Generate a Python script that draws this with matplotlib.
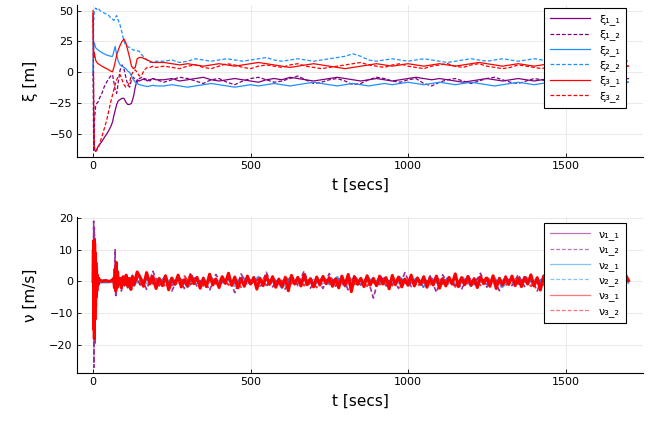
import numpy as np
import matplotlib
matplotlib.use("Agg")
import matplotlib.pyplot as plt

# ---------------- data: xi (top panel) ----------------
t_xi_early = [0, 2, 4, 8, 12, 16, 22, 28, 35, 43, 50, 56, 62, 66, 70, 75, 80, 86, 92, 98,
              104, 110, 116, 122, 128, 134, 140, 147, 155, 163, 172, 181, 190, 200]
t_xi_steady = list(range(225, 1701, 25))

xi1_1 = [45, -30, -62, -64, -62, -60, -58, -56, -53, -50, -47, -44, -40, -35, -31, -26, -23, -22, -21, -21,
         -24, -26, -26, -25, -20, -12, -6, -7, -6, -5, -7, -6, -5, -6,
         -6, -5, -7, -6, -5, -4, -6, -7, -6, -5, -6, -7, -8, -6, -5, -6, -4, -5, -6, -7,
         -6, -5, -4, -5, -6, -7, -6, -5, -6, -7, -6, -5, -4, -5, -6, -5, -6, -7, -8, -7,
         -6, -5, -6, -7, -6, -5, -6, -7, -6, -5, -4, -5, -6, -7, -6, -5, -6, -7, -6, -5]
xi1_2 = [0, -64, -40, -28, -25, -24, -20, -17, -12, -8, -5, -3, -2, -8, -14, -17, -8, 2, 6, 3,
         -4, -10, -12, -6, -4, -6, -8, -5, -4, -6, -5, -7, -5, -6,
         -8, -6, -4, -5, -7, -9, -6, -5, -8, -10, -7, -5, -4, -6, -8, -7, -5, -3, -6, -9,
         -8, -6, -5, -7, -10, -9, -6, -4, -5, -7, -8, -6, -5, -9, -11, -8, -6, -5, -7, -9,
         -7, -5, -4, -6, -8, -9, -7, -5, -6, -8, -10, -8, -6, -5, -7, -9, -8, -6, -7, -8]
xi2_1 = [0, 22, 24, 20, 19, 18, 17, 16, 15, 14, 13.5, 13, 13, 17, 21, 14, 9, 6, 5, 4,
         3, 1, 0, -3, -6, -8, -9, -10, -10.5, -11, -11.5, -11, -10.5, -11,
         -11, -10, -11, -12, -11, -10, -9, -10, -11, -12, -11, -10, -11, -10, -9, -10, -11, -10, -9, -8,
         -9, -10, -11, -10, -9, -10, -11, -10, -9, -10, -9, -8, -9, -10, -9, -8, -9, -10, -9, -8,
         -9, -10, -11, -10, -9, -8, -9, -10, -9, -8, -9, -10, -9, -8, -9, -8, -9, -10, -9, -8]
xi2_2 = [0, 40, 50, 52, 51, 52, 50, 49, 48, 47, 46, 44, 43, 42, 44, 46, 42, 38, 32, 25,
         22, 21, 20, 19, 18, 18, 17.5, 17, 14, 12, 10, 8, 8, 9,
         9, 10, 8, 9, 11, 10, 9, 10, 11, 10, 9, 10, 11, 12, 10, 9, 10, 11, 10, 9,
         10, 11, 12, 13, 15, 13, 10, 9, 10, 11, 10, 9, 10, 11, 10, 9, 8, 9, 10, 11,
         10, 9, 10, 11, 10, 9, 10, 11, 10, 9, 10, 11, 10, 9, 10, 9, 10, 11, 10, 9]
xi3_1 = [50, 12, 16, 10, 8, 7, 6, 5, 4, 3, 2, 1, 0.5, 4, 8, 14, 18, 22, 25, 27,
         24, 18, 12, 5, 3, 4, 11, 12, 12, 11, 10, 9, 8, 8,
         8, 7, 6, 7, 6, 5, 6, 7, 6, 5, 6, 7, 8, 7, 6, 5, 4, 5, 6, 7,
         6, 5, 4, 3, 4, 5, 6, 7, 6, 5, 6, 7, 6, 5, 6, 7, 6, 5, 6, 7,
         8, 7, 6, 5, 6, 7, 6, 5, 6, 7, 6, 7, 8, 7, 6, 5, 6, 7, 6, 5]
xi3_2 = [48, -20, -60, -64, -63, -61, -57, -52, -46, -39, -31, -24, -18, -14, -10, -6, -3, -2, -6, -10,
         -12, -11, -8, -2, 1, 2, 0, -3, -2, 2, 4, 4, 5, 4,
         5, 4, 3, 5, 6, 4, 3, 5, 7, 6, 4, 3, 5, 6, 5, 4, 6, 7, 5, 4,
         3, 4, 5, 6, 7, 8, 6, 5, 4, 6, 7, 5, 4, 3, 5, 6, 7, 5, 4, 6,
         7, 5, 4, 3, 4, 6, 5, 4, 3, 5, 4, 3, 2, 4, 5, 4, 3, 5, 6, 5]

# ---------------- data: nu (bottom panel) ----------------
t_nu_early = [0, 1, 2, 3, 4, 5, 6, 7, 8, 9, 10, 11, 12, 14, 16, 18, 20, 25, 30, 40,
              50, 60, 65, 68, 70, 72, 74, 76, 78, 80, 85, 90, 95, 100, 105, 110, 115, 120, 125, 130, 140]
t_nu_10 = list(range(150, 1701, 10))
t_nu_20 = list(range(150, 1701, 20))
t_nu_25 = list(range(150, 1701, 25))

nu1_1_early = [0, -8, 6, -5, 4, -3, 2, -2, 1, -1, 0.5, -0.5, 0.5, 0, 0.3, 0.2, 0.3, 0.3, 0.3, 0.3,
               0.2, 0.2, 0.3, -0.5, 2, -1, 1, -0.5, 0.5, 0, 0.5, -0.5, 0.5, -0.5, 0.5, -1, 0.5, -0.5, 1, -0.5, 0.5]
nu1_1_steady = [-0.9, 1.1, -0.6, 0.8, -1.3, 0.7, -0.5, 1.2, -0.8, 0.6, -1.0, 0.9, -0.7, 1.3, -0.6, 0.8, -1.1, 0.5, -0.9, 1.0,
                -0.7, 0.6, -1.2, 0.9, -0.5, 1.1, -0.8, 0.7, -1.0, 0.6, -0.9, 1.2, -0.6, 0.8, -1.1, 0.7, -0.5, 1.0, -0.8, 0.9,
                -1.2, 0.6, -0.7, 1.1, -0.9, 0.5, -1.0, 0.8, -0.6, 1.2, -0.8, 0.7, -1.1, 0.9, -0.5, 1.0, -0.7, 0.6, -0.9, 1.1,
                -0.6, 0.8, 0.0]
nu1_2_early = [0, -10, 19, -27, 17, -20, 14, -12, 8, -7, 5, -4, 3, -2, 1, -1, 0.5, 0.5, 0.3, 0.5,
               0.3, 0.5, 0.5, -1, 10, -5, 4, -2, 2, -1, 0.5, -3, 1, -1, 1.5, -2, 1, -1, 2, -1.5, 1]
nu1_2_steady = [1.8, -2.5, 3.2, -1.4, 2.0, -3.0, 1.1, -2.2, 2.7, -1.6, 1.3, -2.8, 2.2, -1.0, 1.7, -3.5, 2.4, -1.2, 1.5, -2.0,
                2.9, -1.7, 1.0, -2.4, 1.9, -1.3, 3.3, -2.1, 1.2, -2.2, 2.5, -1.5, 1.4, -2.6, 2.0, -1.1, 1.6, -5.2, 2.3, -1.4,
                1.1, -2.2, 2.8, -1.6, 1.3, -2.0, 1.8, -3.4, 2.1, -1.2, 1.5, -2.5, 1.9, -1.0, 2.6, -1.8, 1.2, -2.9, 1.7, -1.3,
                2.2, -1.6, 1.4, -3.0, 2.0, -1.1, 1.6, -2.3, 2.5, -1.4, 1.2, -2.1, 1.8, -1.5, 1.3, -2.4, 1.6, -1.0]
nu2_1_early = [0, 12, -6, 8, -10, 6, -5, 4, -3, 2, -2, 1, -1, 0.5, -0.5, 0, 0, -0.5, -0.3, -0.4,
               -0.3, -0.3, -0.2, 1, -2, 2, -1.5, 1, -1, 0.5, -1, -2, 1, -1.5, 1, -1, -2, 1, -1, -1.5, 0.5]
nu2_1_steady = [-1.2, 0.8, -1.6, 1.0, -0.7, 1.3, -1.9, 0.6, -1.1, 1.4, -0.9, 0.7, -1.5, 1.1, -0.8, 1.6, -1.3, 0.9, -2.2, 1.2,
                -0.6, 1.0, -1.4, 0.8, -1.0, 1.5, -1.7, 0.7, -0.9, 1.2, -1.3, 0.6, -1.1, 1.4, -0.8, 1.0, -1.6, 0.9, -1.2, 1.1,
                -0.7, 1.3, -1.5, 0.8, -1.0, 1.2, -1.8, 0.7, -0.9, 1.5, -1.1, 0.6, -1.4, 1.0, -0.8, 1.3, -1.2, 0.9, -1.0, 1.1,
                -0.9, 0.8, -0.5]
nu2_2_early = [0, -5, 8, -4, 3, -3, 2, -2, 1.5, -1, 1, -1, 0.5, -0.5, 0.3, -0.2, 0, 0, 0, 0,
               0, 0, 0, 0.5, -1, 1, -0.5, 0.5, -0.5, 0.3, -0.5, -1, 0.5, -0.5, 0.5, -0.5, -1, 0.5, -0.5, 0.5, -0.5]
nu2_2_steady = [0.6, -0.8, 0.5, -0.4, 0.9, -0.6, 0.4, -0.9, 0.7, -0.5, 0.3, -0.7, 0.8, -0.4, 0.5, -0.6, 0.9, -0.5, 0.4, -0.8,
                0.6, -0.3, 0.7, -0.9, 0.5, -0.4, 0.6, -0.7, 0.8, -0.5, 0.4, -0.6, 0.7, -0.8, 0.5, -0.4, 0.9, -0.6, 0.3, -0.5,
                0.6, -0.7, 0.4, -0.5, 0.8, -0.6, 0.5, -0.9, 0.7, -0.4, 0.6, -0.5, 0.3, -0.7, 0.8, -0.6, 0.5, -0.4, 0.7, -0.5,
                0.4, -0.6, 0.2]
nu3_1_early = [0, 10, -15, 13, -18, 12, -12, 9, -8, 6, -5, 4, -3, 2, -1, 1, 0, 0.3, 0, 0.2,
               0, 0.3, 1, -2, 4, -3, 6, -2, 3, -1, 1, -2, 1.5, -1, 2, -1.5, 1, -2.5, 1.5, -1, 3]
nu3_1_steady = [1.2, -1.5, 2.8, -0.8, 1.6, -2.2, 0.9, -1.3, 1.8, -2.6, 1.1, -0.9, 2.0, -1.7, 0.6,
                -1.4, 1.9, -0.7, 1.3, -2.1, 1.0, -1.6, 2.3, -1.1, 0.8, -1.9, 1.5, -0.6, 2.6, -1.2,
                1.4, -2.0, 0.9, -1.5, 1.7, -0.8, 1.2, -2.4, 1.0, -1.3, 1.8, -0.9, 1.5, -1.8, 0.7,
                -1.6, 1.1, -2.9, 1.9, -0.8, 1.3, -1.4, 2.1, -1.0, 0.9, -1.7, 1.4, -1.1, 1.6, -0.7,
                1.2, -1.5, 0.8, -2.0, 1.7, -1.2, 2.2, -3.2, 1.5, -0.9, 1.0, -1.6, 1.8, -1.1, 0.9,
                -1.3, 1.6, -0.8, 1.2, -2.3, 1.9, -1.0, 1.4, -1.7, 0.8, -1.2, 2.0, -1.4, 1.1, -0.9,
                1.5, -1.8, 1.0, -1.1, 1.7, -2.1, 0.9, -1.4, 1.3, -0.8, 2.4, -1.6, 1.2, -1.0, 1.6,
                -1.2, 0.9, -1.9, 1.5, -0.7, 1.1, -1.5, 1.8, -2.2, 1.0, -1.1, 1.4, -0.9, 1.7, -1.3,
                1.0, -1.6, 1.3, -0.8, 2.1, -1.4, 1.2, -2.7, 1.5, -0.9, 1.1, -1.3, 1.8, -1.0, 0.8,
                -1.4, 1.6, -1.1, 0.9, -1.8, 1.3, -0.8, 1.5, -1.2, 2.0, -1.6, 1.1, -0.9, 1.4, -1.5,
                1.2, -1.0, 1.7, -1.9, 2.2, 0.3]
nu3_2_early = [0, -12, 10, -17, 9, -8, 6, -5, 4, -3, 2, -2, 1, -1, 0.5, -0.5, 0, 0.5, 0.3, 0.2,
               0.3, 0.2, 0.5, -1, 2, -1.5, 2, -1, 1, -0.5, 1, -1, 1, -1, 1, -1, 1, -1, 1, -1, 1]
nu3_2_steady = [-1.0, 1.4, -0.7, 1.1, -1.6, 0.8, -1.2, 1.7, -0.9, 0.6, -1.4, 1.2, -0.8, 1.5, -1.1, 0.7, -1.8, 1.0, -0.6, 1.3,
                -1.5, 0.9, -1.0, 1.6, -0.7, 1.1, -1.3, 0.8, -1.9, 1.4, -0.8, 1.0, -1.2, 1.7, -0.9, 0.6, -1.5, 1.2, -1.0, 0.8,
                -1.3, 1.5, -0.7, 1.1, -1.6, 0.9, -1.1, 1.4, -0.8, 1.0, -1.7, 1.3, -0.9, 0.7, -1.2, 1.6, -1.0, 0.8, -1.4, 1.1,
                -0.7, 1.2, -1.5, 0.9, -1.1, 1.3, -0.8, 1.6, -1.2, 0.7, -1.0, 1.4, -0.9, 1.1, -1.3, 0.8, -1.0, 1.2]

xi_labels = ["ξ₁_₁", "ξ₁_₂", "ξ₂_₁", "ξ₂_₂", "ξ₃_₁", "ξ₃_₂"]
nu_labels = ["ν₁_₁", "ν₁_₂", "ν₂_₁", "ν₂_₂", "ν₃_₁", "ν₃_₂"]
x_ticks = [0, 500, 1000, 1500]
xi_ticks = [-50, -25, 0, 25, 50]
nu_ticks = [-20, -10, 0, 10, 20]

# ---------------- styling ----------------
PURPLE, BLUE, RED = "#800080", "#1E90FF", "#FF0000"
colors = [PURPLE, PURPLE, BLUE, BLUE, RED, RED]
styles = ["-", "--", "-", "--", "-", "--"]

plt.rcParams["font.family"] = ["DejaVu Sans"]
fig = plt.figure(figsize=(6.57, 4.23), dpi=100)
ax1 = fig.add_axes([77/657, 1-157/423, 566/657, 152/423])
ax2 = fig.add_axes([77/657, 1-373/423, 566/657, 156/423])

t_xi = t_xi_early + t_xi_steady
xi_series = [xi1_1, xi1_2, xi2_1, xi2_2, xi3_1, xi3_2]
for y, c, s, lab in zip(xi_series, colors, styles, xi_labels):
    kw = dict(dashes=(3, 1.6)) if s == "--" else {}
    ax1.plot(t_xi, y, color=c, ls=s, lw=0.9, label=lab, **kw)

nu_series = [
    (t_nu_early + t_nu_25, nu1_1_early + nu1_1_steady),
    (t_nu_early + t_nu_20, nu1_2_early + nu1_2_steady),
    (t_nu_early + t_nu_25, nu2_1_early + nu2_1_steady),
    (t_nu_early + t_nu_25, nu2_2_early + nu2_2_steady),
    (t_nu_early + t_nu_10, nu3_1_early + nu3_1_steady),
    (t_nu_early + t_nu_20, nu3_2_early + nu3_2_steady),
]
nu_lw = [1.2, 1.2, 1.2, 1.0, 2.2, 1.4]
nu_alpha = [0.8, 0.8, 0.8, 0.8, 1.0, 0.8]
for (tt, y), c, s, lab, lw, a in zip(nu_series, colors, styles, nu_labels, nu_lw, nu_alpha):
    kw = dict(dashes=(3, 1.6)) if s == "--" else {}
    ax2.plot(tt, y, color=c, ls=s, lw=lw, alpha=a, label=lab, **kw)

for ax, yl, yt, ylim in [(ax1, "ξ [m]", xi_ticks, (-68.5, 54.5)),
                         (ax2, "ν [m/s]", nu_ticks, (-28.8, 20.3))]:
    ax.set_xlim(-51, 1746)
    ax.set_ylim(*ylim)
    ax.set_xticks(x_ticks)
    ax.set_yticks(yt)
    ax.set_xlabel("t [secs]", fontsize=11, labelpad=5)
    ax.set_ylabel(yl, fontsize=11, labelpad=8)
    ax.grid(True, color="#e6e6e6", lw=0.6)
    ax.set_axisbelow(True)
    for sp in ["top", "right"]:
        ax.spines[sp].set_visible(False)
    for sp in ["left", "bottom"]:
        ax.spines[sp].set_linewidth(0.8)
    ax.tick_params(direction="in", length=3, width=0.6, labelsize=8, pad=3)
    leg_top = 0.98 if ax is ax1 else 0.962
    leg = ax.legend(loc="upper right", bbox_to_anchor=(0.97, leg_top), fontsize=8,
                    fancybox=False, framealpha=1, edgecolor="black", handlelength=3.6,
                    labelspacing=0.4, borderpad=0.55, handletextpad=0.8, borderaxespad=0)
    leg.get_frame().set_linewidth(0.8)
    for lh in leg.get_lines():
        lh.set_linewidth(0.9)
        lh.set_alpha(0.55 if ax is ax2 else 1.0)

fig.savefig("out.png", dpi=100)
